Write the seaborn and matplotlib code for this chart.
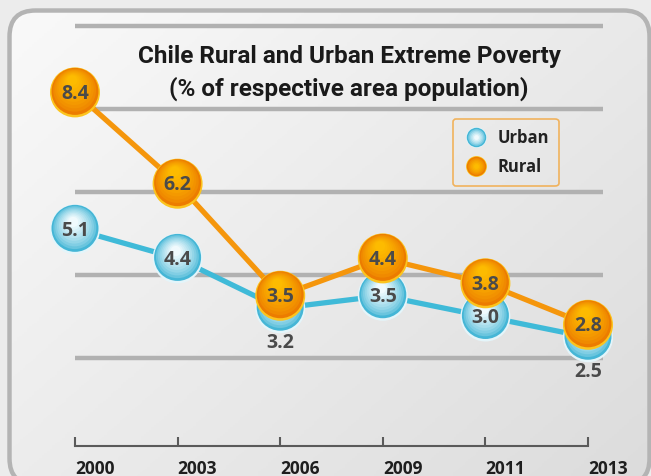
import numpy as np
import pandas as pd
import matplotlib
matplotlib.use("Agg")
import matplotlib.pyplot as plt
import matplotlib.colors as mcolors
import seaborn as sns
from matplotlib.patches import FancyBboxPatch
from matplotlib.lines import Line2D
from matplotlib.legend_handler import HandlerTuple
from matplotlib.transforms import offset_copy, IdentityTransform

# ---------------- data ----------------
years = ["2000", "2003", "2006", "2009", "2011", "2013"]
urban = [5.1, 4.4, 3.2, 3.5, 3.0, 2.5]
rural = [8.4, 6.2, 3.5, 4.4, 3.8, 2.8]
grid_values = [2, 4, 6, 8, 10]
series_names = ["Urban", "Rural"]
title = "Chile Rural and Urban Extreme Poverty\n(% of respective area population)"
urban_label_below = [False, False, True, False, False, True]

df = pd.DataFrame({"pos": np.arange(len(years)), "year": years,
                   "Urban": urban, "Rural": rural})

# ---------------- style ----------------
W, H = 651, 476
sns.set_theme(style="white")
plt.rcParams["font.family"] = ["Open Sans", "DejaVu Sans"]

STYLE = {
    "Urban": dict(line="#3fbad8", rim="#e4f5fa", base="#45b6d6",
                  hi="#f0fafd", sx=0.1, sy=0.35),
    "Rural": dict(line="#f5960c", rim="#fcc41e", base="#ec7c00",
                  hi="#fdbb00", sx=0.15, sy=0.6),
}

fig = plt.figure(figsize=(W / 100, H / 100), dpi=100)
fig.patch.set_facecolor("#ececec")

# background rounded panel (in pixel / display coordinates) with gradient
bg = fig.add_axes([0, 0, 1, 1], zorder=-10)
bg.axis("off")
panel_top, panel_bottom = 10.5, 484.5          # pixels from top
panel = FancyBboxPatch((9.5, H - panel_bottom), 640, panel_bottom - panel_top,
                       boxstyle="round,pad=0,rounding_size=26",
                       facecolor="none", edgecolor="#b4b4b4", linewidth=3.2,
                       transform=IdentityTransform(), zorder=3)
fig.add_artist(panel)
gx, gy = np.meshgrid(np.linspace(0, 1, 256), np.linspace(0, 1, 256))
grad = gx * 0.55 + gy * 0.45
cmap = mcolors.LinearSegmentedColormap.from_list("bg", ["#fafafa", "#dcdcdc"])
im = bg.imshow(grad, cmap=cmap, extent=(0, 1, 0, 1), aspect="auto",
               origin="upper", transform=bg.transAxes, zorder=1)
im.set_clip_path(panel)
bg.set_xlim(0, 1)
bg.set_ylim(0, 1)

# main axes
Y0_PX, K = 441.0, 41.5      # pixel of y=0, pixels per unit
XPX = 102.6                 # pixels per category
ax = fig.add_axes([75 / W, 30 / H, 528 / W, (446 - 18) / H])
ax.set_facecolor("none")

for g in grid_values:
    ax.axhline(g, color="#b1b1b1", lw=3.2, zorder=1)

z = 2
for name in series_names:
    sns.lineplot(data=df, x="pos", y=name, color=STYLE[name]["line"], lw=3.8,
                 ax=ax, zorder=z, clip_on=False, legend=False)
    z += 1


def mix(c1, c2, t):
    a = np.array(mcolors.to_rgb(c1))
    b = np.array(mcolors.to_rgb(c2))
    return tuple(a + (b - a) * t)


def sphere(name, zbase, size_px=50, n=10):
    st = STYLE[name]
    # rim
    sns.scatterplot(data=df, x="pos", y=name, s=(size_px * 0.72) ** 2,
                    color=st["rim"], edgecolor="none", linewidth=0, ax=ax,
                    zorder=zbase, clip_on=False, legend=False)
    inner = size_px - 3
    for i in range(n):
        t = i / (n - 1)
        d = inner * (1 - 0.78 * t)
        off = (inner - d) / 2
        tr = offset_copy(ax.transData, fig=fig, x=-off * st["sx"],
                         y=off * st["sy"] + 1.0, units="dots")
        sns.scatterplot(data=df, x="pos", y=name, s=(d * 0.72) ** 2,
                        color=mix(st["base"], st["hi"], t ** 0.7),
                        edgecolor="none", linewidth=0, ax=ax,
                        zorder=zbase + 0.01 * (i + 1), clip_on=False,
                        legend=False, transform=tr)


sphere("Urban", 4)
for i, v in enumerate(urban):
    dy = -24 if urban_label_below[i] else 0
    ax.annotate(f"{v:.1f}", (i, v), xytext=(0, dy - 1),
                textcoords="offset points", ha="center", va="center",
                fontsize=14, fontweight="bold", color="#4a4a4a", zorder=5,
                annotation_clip=False)

sphere("Rural", 6)
for i, v in enumerate(rural):
    ax.annotate(f"{v:.1f}", (i, v), xytext=(0, -1),
                textcoords="offset points", ha="center", va="center",
                fontsize=14, fontweight="bold", color="#4a4a4a", zorder=7,
                annotation_clip=False)

ax.set_xlim(0, 528 / XPX)
ax.set_ylim((Y0_PX - 446) / K, (Y0_PX - 18) / K)
ax.set_xlabel("")
ax.set_ylabel("")
ax.set_yticks([])
ax.set_xticks(df["pos"], years)
ax.tick_params(axis="x", direction="in", length=6.5, width=1.5,
               color="#5a5a5a", pad=10, labelsize=12.5, labelcolor="#1e1e1e",
               bottom=True)
for lab in ax.get_xticklabels():
    lab.set_horizontalalignment("left")
    lab.set_fontweight("bold")
for s in ["top", "left", "right"]:
    ax.spines[s].set_visible(False)
ax.spines["bottom"].set_color("#5a5a5a")
ax.spines["bottom"].set_linewidth(1.5)
ax.spines["bottom"].set_bounds(0, 5)

# title
fig.text(349 / W, 1 - 73 / H, title, ha="center", va="center",
         fontsize=17.5, fontweight="bold", linespacing=1.45, color="#1a1a1a",
         family=["Roboto", "DejaVu Sans"])

# legend
handles = []
for name in series_names:
    st = STYLE[name]
    parts = [Line2D([], [], ls="none", marker="o", ms=15,
                    markerfacecolor=st["rim"], markeredgewidth=0)]
    for i in range(6):
        t = i / 5
        parts.append(Line2D([], [], ls="none", marker="o",
                            ms=14 * (1 - 0.75 * t),
                            markerfacecolor=mix(st["base"], st["hi"], t ** 0.7),
                            markeredgewidth=0))
    handles.append(tuple(parts))
leg = ax.legend(handles, series_names,
                handler_map={tuple: HandlerTuple(ndivide=1, pad=0)},
                loc="upper left", bbox_to_anchor=(453 / W, 1 - 119 / H),
                bbox_transform=fig.transFigure, borderaxespad=0,
                frameon=True, fancybox=True,
                prop={"weight": "bold", "size": 12},
                borderpad=0.6, labelspacing=0.65, handletextpad=0.45,
                handlelength=1.6)
leg.get_frame().set_edgecolor("#f3a53a")
leg.get_frame().set_linewidth(1.2)
leg.get_frame().set_facecolor("none")
for txt in leg.get_texts():
    txt.set_color("#222222")
leg.set_zorder(10)

fig.savefig("out.png", dpi=100, facecolor=fig.get_facecolor())
